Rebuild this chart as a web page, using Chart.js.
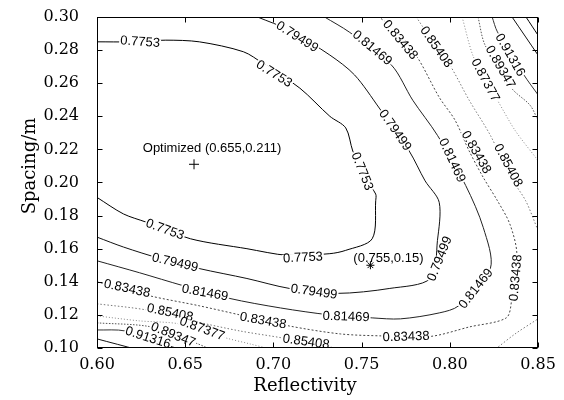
<!DOCTYPE html>
<html><head><meta charset="utf-8">
<script src="https://cdn.jsdelivr.net/npm/chart.js@4.4.1/dist/chart.umd.min.js"></script>
<style>html,body{margin:0;padding:0;background:#fff}</style>
</head><body>
<canvas id="c" width="564" height="400" style="width:564px;height:400px;display:block"></canvas>
<script>
// ---- axes ----
const xTicks = [0.60, 0.65, 0.70, 0.75, 0.80, 0.85];
const yTicks = [0.10, 0.12, 0.14, 0.16, 0.18, 0.20, 0.22, 0.24, 0.26, 0.28, 0.30];
const xTitle = 'Reflectivity';
const yTitle = 'Spacing/m';

// ---- contour levels (Reflectivity, Spacing) ----
const c7753 = [[0.600,0.191],[0.615,0.181],[0.628,0.176],[0.653,0.166],[0.685,0.160],[0.708,0.156],[0.732,0.157],[0.741,0.159],[0.756,0.166],[0.758,0.189],[0.758,0.193],[0.753,0.201],[0.748,0.213],[0.745,0.219],[0.741,0.233],[0.732,0.240],[0.715,0.257],[0.694,0.272],[0.683,0.279],[0.658,0.285],[0.639,0.286],[0.619,0.285],[0.600,0.285]];
const c79499 = [[0.600,0.167],[0.615,0.161],[0.636,0.154],[0.658,0.148],[0.685,0.142],[0.709,0.136],[0.736,0.133],[0.766,0.136],[0.789,0.142],[0.793,0.165],[0.794,0.188],[0.786,0.201],[0.777,0.219],[0.760,0.245],[0.746,0.265],[0.732,0.277],[0.709,0.292],[0.691,0.300]];
const c81469 = [[0.600,0.1527],[0.624,0.1455],[0.649,0.1376],[0.675,0.130],[0.704,0.1242],[0.732,0.120],[0.756,0.1182],[0.772,0.1176],[0.794,0.1212],[0.805,0.1255],[0.823,0.148],[0.819,0.1727],[0.809,0.1982],[0.793,0.2285],[0.779,0.2497],[0.767,0.2709],[0.743,0.2909],[0.729,0.300]];
const c83438 = [[0.600,0.140],[0.630,0.1315],[0.658,0.1255],[0.681,0.120],[0.709,0.1133],[0.738,0.1085],[0.762,0.1073],[0.789,0.107],[0.811,0.1127],[0.832,0.1182],[0.835,0.1285],[0.838,0.157],[0.834,0.175],[0.827,0.189],[0.819,0.203],[0.811,0.219],[0.803,0.2376],[0.794,0.2515],[0.782,0.275],[0.772,0.289],[0.760,0.300]];
const c85408a = [[0.600,0.1267],[0.628,0.1230],[0.654,0.1164],[0.681,0.1103],[0.705,0.1061],[0.732,0.1006],[0.738,0.0994]];
const c85408b = [[0.781,0.300],[0.7916,0.283],[0.800,0.271],[0.811,0.2497],[0.823,0.2285],[0.834,0.204],[0.843,0.189],[0.850,0.171]];
const c85408c = [[0.826,0.0994],[0.837,0.1085],[0.850,0.1176]];
const c87377a = [[0.600,0.1194],[0.624,0.1164],[0.647,0.1145],[0.673,0.1061],[0.687,0.1024],[0.698,0.0994]];
const c87377b = [[0.807,0.300],[0.813,0.277],[0.820,0.262],[0.827,0.2497],[0.837,0.2315],[0.850,0.2133]];
const c89347a = [[0.600,0.1152],[0.631,0.1127],[0.656,0.1030],[0.664,0.0994]];
const c89347b = [[0.816,0.300],[0.820,0.283],[0.835,0.257],[0.8455,0.2467],[0.850,0.2376]];
const c91316a = [[0.600,0.1109],[0.616,0.1103],[0.643,0.1006],[0.646,0.0994]];
const c91316b = [[0.824,0.300],[0.827,0.291],[0.842,0.265],[0.850,0.253]];
const c93286a = [[0.600,0.1055],[0.623,0.0990]];
const c93286b = [[0.8353,0.300],[0.850,0.277]];
const c95255b = [[0.8432,0.300],[0.850,0.289]];

// ---- contour labels: text, x, y, angle(deg) ----
const contourLabels = [
  ['0.7753',0.6244,0.2848,4],['0.7753',0.7003,0.2655,32],['0.7753',0.7502,0.2067,68],
  ['0.7753',0.7168,0.1545,-3],['0.7753',0.6385,0.1715,20],
  ['0.79499',0.7134,0.2879,32],['0.79499',0.7689,0.2315,55],['0.79499',0.7944,0.1539,-68],
  ['0.79499',0.7230,0.1339,8],['0.79499',0.6442,0.1515,13],
  ['0.81469',0.7559,0.2812,40],['0.81469',0.8012,0.2133,65],['0.81469',0.8149,0.1358,-52],
  ['0.81469',0.7412,0.1188,2],['0.81469',0.6612,0.1333,10],
  ['0.83438',0.6170,0.1358,12],['0.83438',0.6941,0.1164,10],['0.83438',0.7752,0.1067,-2],
  ['0.83438',0.8375,0.1424,-85],['0.83438',0.8149,0.2182,60],['0.83438',0.7718,0.2861,50],
  ['0.85408',0.7922,0.2818,55],['0.85408',0.8330,0.2103,62],['0.85408',0.6414,0.1212,12],['0.85408',0.7185,0.1036,8],
  ['0.87377',0.8200,0.2618,62],['0.87377',0.6595,0.1115,20],
  ['0.89347',0.8285,0.2697,60],['0.89347',0.6431,0.1079,22],
  ['0.91316',0.8341,0.2770,60],['0.91316',0.6289,0.1061,18]
];

// ---- marked points ----
const optPoint = [0.655, 0.211];
const optText = 'Optimized (0.655,0.211)';
const altPoint = [0.755, 0.15];
const altText = '(0.755,0.15)';

const toXY = a => a.map(p => ({x:p[0], y:p[1]}));
function line(data, color, dash){
  return {data: toXY(data), showLine:true, borderColor:color, borderWidth:1,
    borderDash: dash || [], pointRadius:0, fill:false, tension:0.3};
}
const datasets = [
  line(c7753,'#000'), line(c79499,'#111'), line(c81469,'#222'),
  line(c83438,'#444',[2,2]),
  line(c85408a,'#777',[1.5,2]), line(c85408b,'#777',[1.5,2]), line(c85408c,'#777',[1.5,2]),
  line(c87377a,'#888',[1,2]), line(c87377b,'#888',[1,2]),
  line(c89347a,'#555',[1.5,1.5]), line(c89347b,'#555',[1.5,1.5]),
  line(c91316a,'#333'), line(c91316b,'#333'),
  line(c93286a,'#111'), line(c93286b,'#111'), line(c95255b,'#000'),
  {data:[{x:optPoint[0],y:optPoint[1]}], pointStyle:'cross', pointRadius:5, borderColor:'#000', borderWidth:1, showLine:false},
  {data:[{x:altPoint[0],y:altPoint[1]}], pointStyle:'star', pointRadius:4, borderColor:'#000', borderWidth:1, showLine:false}
];

const serif = '"DejaVu Serif", "Liberation Serif", serif';
const sans = '"Liberation Sans", Arial, sans-serif';

const deco = {
  id:'deco',
  afterDatasetsDraw(chart){
    const {ctx, chartArea:a, scales:{x, y}} = chart;
    ctx.save();
    ctx.beginPath(); ctx.rect(a.left, a.top, a.right-a.left, a.bottom-a.top); ctx.clip();
    ctx.font = '13px ' + sans;
    ctx.textAlign = 'center'; ctx.textBaseline = 'middle';
    for (const [t, vx, vy, ang] of contourLabels){
      const px = x.getPixelForValue(vx), py = y.getPixelForValue(vy);
      const w = ctx.measureText(t).width;
      ctx.save(); ctx.translate(px, py); ctx.rotate(ang*Math.PI/180);
      ctx.fillStyle = '#fff'; ctx.fillRect(-w/2-1, -4, w+2, 8);
      ctx.fillStyle = '#000'; ctx.fillText(t, 0, 0);
      ctx.restore();
    }
    ctx.restore();
    ctx.save();
    ctx.font = '13px ' + sans; ctx.fillStyle = '#000';
    ctx.textAlign = 'center'; ctx.textBaseline = 'middle';
    ctx.fillText(optText, x.getPixelForValue(optPoint[0]) + 18, y.getPixelForValue(optPoint[1]) - 16);
    ctx.fillText(altText, x.getPixelForValue(altPoint[0]) + 18, y.getPixelForValue(altPoint[1]) - 7);
    ctx.restore();
  },
  afterDraw(chart){
    const {ctx, chartArea:a, scales:{x, y}} = chart;
    ctx.save();
    ctx.strokeStyle = '#000'; ctx.lineWidth = 1;
    const L = Math.round(a.left)+0.5, R = Math.round(a.right)-0.5, T = Math.round(a.top)+0.5, B = Math.round(a.bottom)-0.5;
    ctx.strokeRect(L, T, R-L, B-T);
    ctx.beginPath();
    for (const v of xTicks){
      const px = Math.round(x.getPixelForValue(v))+0.5;
      ctx.moveTo(px, B); ctx.lineTo(px, B-5);
      ctx.moveTo(px, T); ctx.lineTo(px, T+5);
    }
    for (const v of yTicks){
      const py = Math.round(y.getPixelForValue(v))+0.5;
      ctx.moveTo(L, py); ctx.lineTo(L+5, py);
      ctx.moveTo(R, py); ctx.lineTo(R-5, py);
    }
    ctx.stroke();
    ctx.font = '18px ' + serif; ctx.fillStyle = '#000';
    ctx.textAlign = 'center'; ctx.textBaseline = 'middle';
    ctx.fillText(xTitle, 305, 386);
    ctx.translate(30, 166); ctx.rotate(-Math.PI/2);
    ctx.fillText(yTitle, 0, 0);
    ctx.restore();
  }
};

new Chart(document.getElementById('c'), {
  type:'scatter',
  data:{datasets},
  options:{
    responsive:false, animation:false,
    layout:{padding:{top:17, right:26, left:0, bottom:0}},
    plugins:{legend:{display:false}, tooltip:{enabled:false}},
    scales:{
      x:{type:'linear', min:0.6, max:0.85,
        afterBuildTicks:s=>{s.ticks = xTicks.map(v=>({value:v}));},
        afterFit:s=>{s.height = 52; s.paddingLeft = 0; s.paddingRight = 0;},
        ticks:{callback:v=>Number(v).toFixed(2), font:{family:serif, size:16}, color:'#000', padding:7, maxRotation:0, autoSkip:false},
        grid:{display:false, drawTicks:false}, border:{display:false}},
      y:{type:'linear', min:0.1, max:0.3,
        afterBuildTicks:s=>{s.ticks = yTicks.map(v=>({value:v}));},
        afterFit:s=>{s.width = 97; s.paddingTop = 0; s.paddingBottom = 0;},
        ticks:{callback:v=>Number(v).toFixed(2), font:{family:serif, size:16}, color:'#000', padding:18, autoSkip:false},
        grid:{display:false, drawTicks:false}, border:{display:false}}
    }
  },
  plugins:[deco]
});
</script>
</body></html>
